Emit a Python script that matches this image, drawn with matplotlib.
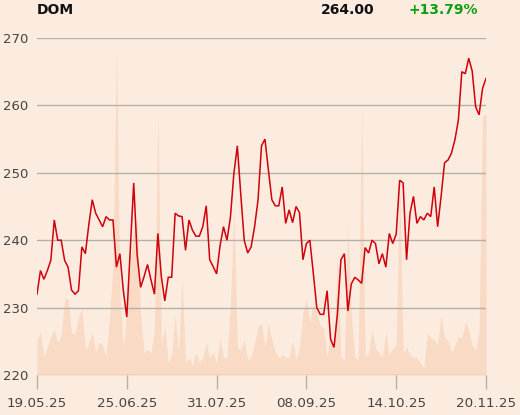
import matplotlib
matplotlib.use("Agg")
import matplotlib.pyplot as plt
import numpy as np

# ---- data (trading-day index based) ----
close = [232.0, 235.5, 234.2, 235.5, 237.0, 243.0, 240.0, 240.0, 237.0, 236.0,
         232.6, 232.0, 232.5, 239.0, 238.0, 242.3, 246.0, 244.0, 243.0, 242.0,
         243.5, 243.0, 243.0, 236.0, 238.0, 232.5, 228.6, 238.5, 248.5, 237.8,
         233.0, 234.6, 236.4, 234.1, 232.0, 241.0, 234.6, 231.0, 234.5, 234.5,
         244.0, 243.6, 243.5, 238.5, 243.0, 241.5, 240.6, 240.6, 242.0, 245.1,
         237.1, 236.1, 235.0, 239.2, 242.0, 240.0, 243.4, 249.9, 254.0, 246.8,
         240.0, 238.1, 239.0, 242.0, 246.0, 254.0, 255.0, 250.4, 246.0, 245.1,
         245.1, 247.9, 242.5, 244.5, 242.6, 245.0, 244.1, 237.1, 239.5, 240.0,
         235.1, 230.0, 229.0, 229.0, 232.5, 225.3, 224.1, 229.2, 237.1, 238.0,
         229.5, 233.5, 234.5, 234.1, 233.6, 238.9, 238.1, 240.0, 239.5, 236.5,
         238.0, 236.0, 241.0, 239.5, 240.9, 248.9, 248.5, 237.1, 244.0, 246.5,
         242.5, 243.5, 243.0, 244.0, 243.5, 247.9, 242.0, 246.5, 251.5, 251.9,
         252.9, 254.9, 257.8, 265.0, 264.7, 267.0, 265.1, 259.8, 258.6, 262.5,
         264.0]

volume = [35, 43, 18, 28, 38, 46, 32, 40, 76, 76,
          42, 41, 58, 66, 25, 32, 43, 22, 33, 30,
          18, 58, 110, 325, 80, 28, 60, 110, 145, 157,
          60, 23, 26, 22, 45, 262, 30, 48, 12, 20,
          60, 22, 96, 13, 17, 10, 22, 13, 17, 32,
          17, 23, 12, 37, 17, 18, 70, 167, 28, 25,
          35, 15, 18, 32, 48, 52, 28, 52, 35, 23,
          17, 20, 18, 17, 35, 15, 28, 62, 76, 52,
          72, 62, 50, 47, 18, 42, 25, 122, 18, 15,
          148, 60, 18, 15, 268, 18, 22, 45, 27, 22,
          18, 43, 20, 27, 30, 195, 22, 28, 20, 18,
          17, 12, 7, 42, 37, 35, 30, 60, 37, 35,
          23, 30, 38, 37, 53, 45, 30, 25, 45, 258,
          262]

tick_idx = [0, 26, 52, 78, 104, 130]
tick_labels = ["19.05.25", "25.06.25", "31.07.25", "08.09.25", "14.10.25", "20.11.25"]
y_ticks = [220, 230, 240, 250, 260, 270]

ticker = "DOM"
last_price = "264.00"
change = "+13.79%"

# ---- styling ----
bg = "#fcece0"
vol_color = "#f8dac5"
line_color = "#d0000a"
grid_color = "#b4b0ac"
text_color = "#444444"

fig = plt.figure(figsize=(5.2, 4.15), dpi=100)
fig.patch.set_facecolor(bg)

ax = fig.add_axes([37/520, 40/415, (486-37)/520, (375-38)/415])
axv = ax.twinx()
ax.set_zorder(axv.get_zorder() + 1)
ax.patch.set_visible(False)
axv.set_facecolor(bg)

x = np.arange(len(close))

axv.fill_between(x, 0, volume, color=vol_color, linewidth=0)
axv.set_ylim(0, max(volume) * 337 / 325)
axv.set_yticks([])
for s in axv.spines.values():
    s.set_visible(False)

ax.plot(x, close, color=line_color, linewidth=1.1, solid_joinstyle="miter")
ax.set_xlim(0, len(close) - 1)
ax.set_ylim(220, 270)
ax.set_yticks(y_ticks)
ax.set_yticklabels([str(v) for v in y_ticks])
ax.set_xticks(tick_idx)
ax.set_xticklabels(tick_labels)
ax.grid(axis="y", color=grid_color, linewidth=1.0)
ax.grid(axis="x", visible=False)
for s in ax.spines.values():
    s.set_visible(False)
ax.tick_params(axis="y", length=0, pad=6.5, labelsize=9.5, labelcolor=text_color)
ax.tick_params(axis="x", length=10, width=1, color=grid_color, pad=6,
               labelsize=9.7, labelcolor=text_color)

fig.text(37/520, 1 - 10/415, ticker, ha="left", va="center",
         fontsize=10, fontweight="bold", color="#111111")
fig.text(374/520, 1 - 10/415, last_price, ha="right", va="center",
         fontsize=10, fontweight="bold", color="#111111")
fig.text(408/520, 1 - 10/415, change, ha="left", va="center",
         fontsize=10, fontweight="bold", color="#109e10")

fig.savefig("out.png", dpi=100, facecolor=bg)
